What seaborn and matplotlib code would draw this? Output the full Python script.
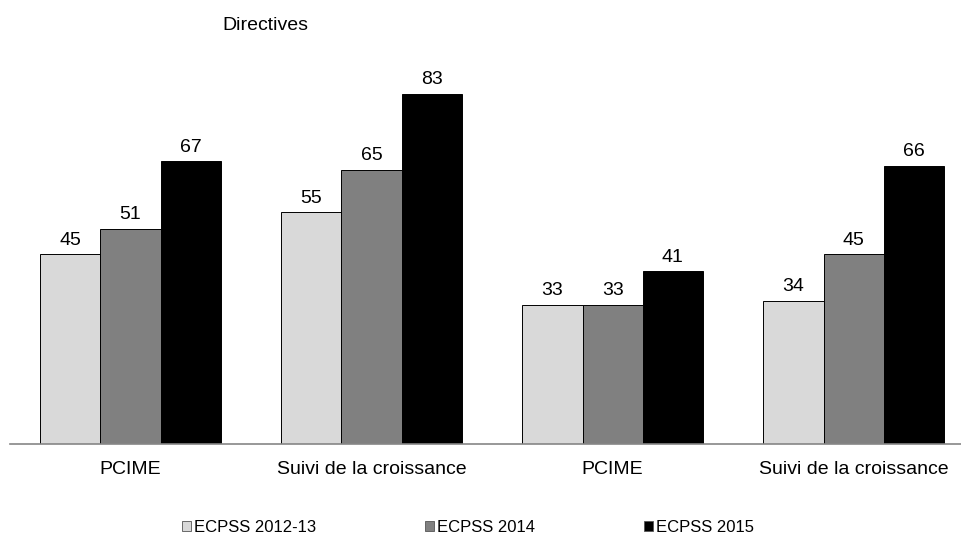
import matplotlib
matplotlib.use("Agg")
import matplotlib.pyplot as plt
import seaborn as sns
import pandas as pd

# data
groups = ["PCIME", "Suivi de la croissance", "PCIME", "Suivi de la croissance"]
series = ["ECPSS 2012-13", "ECPSS 2014", "ECPSS 2015"]
v_2012 = [45, 55, 33, 34]
v_2014 = [51, 65, 33, 45]
v_2015 = [67, 83, 41, 66]
colors = ["#D9D9D9", "#808080", "#000000"]

rows = []
for vals, s in zip([v_2012, v_2014, v_2015], series):
    for i, v in enumerate(vals):
        rows.append({"pos": f"g{i}", "serie": s, "val": v})
df = pd.DataFrame(rows)

sns.set_style("white")
plt.rcParams["font.family"] = ["Liberation Sans", "DejaVu Sans"]
plt.rcParams["text.color"] = "black"
plt.rcParams["xtick.color"] = "black"

fig = plt.figure(figsize=(9.61, 5.37), dpi=100)
ax = fig.add_axes([10 / 961, 93 / 537, 951 / 961, 421.7 / 537])

sns.barplot(data=df, x="pos", y="val", hue="serie", palette=colors,
            width=0.75, edgecolor="black", linewidth=0.7, ax=ax, legend=False)

for c in ax.containers:
    ax.bar_label(c, fmt="%d", padding=4, fontsize=14, color="black")

ax.set_ylim(0, 100)
ax.set_xlim(-0.5, 3.445)
ax.set_xticks(range(len(groups)))
ax.set_xticklabels(groups, fontsize=14)
ax.tick_params(axis="x", length=0, pad=12)
ax.set_yticks([])
ax.set_xlabel("")
ax.set_ylabel("")
for side in ["top", "left", "right"]:
    ax.spines[side].set_visible(False)
ax.spines["bottom"].set_color("#868686")
ax.spines["bottom"].set_linewidth(1.2)

fig.text(222 / 961, 1 - 25 / 537, "Directives", fontsize=14, va="center")

handles = [plt.Rectangle((0, 0), 1, 1, facecolor=c, edgecolor="#555555", linewidth=0.6)
           for c in colors]
fig.legend(handles, series, loc="center", bbox_to_anchor=(0.487, 0.017), ncol=3,
           frameon=False, fontsize=12, handlelength=0.55, handleheight=0.55,
           handletextpad=0.2, columnspacing=6.5, borderpad=0)

fig.savefig("out.png", dpi=100)
